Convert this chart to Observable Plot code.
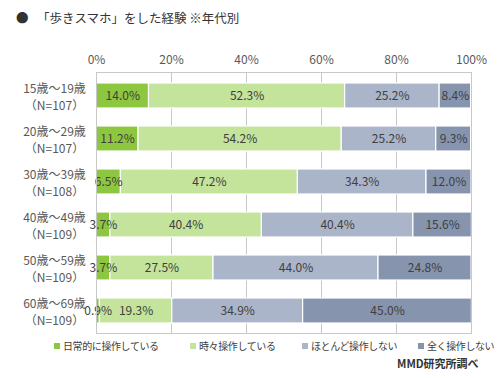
<!DOCTYPE html>
<html><head><meta charset="utf-8">
<script src="https://cdn.jsdelivr.net/npm/d3@7"></script>
<script src="https://cdn.jsdelivr.net/npm/@observablehq/plot@0.6"></script>
<style>
body{margin:0;background:#fff;font-family:"Noto Sans CJK JP","Noto Sans",sans-serif;color:#404040;}
#wrap{position:relative;width:500px;height:378px;overflow:hidden;}
#title{position:absolute;left:16px;top:8px;font-size:12.5px;color:#333;white-space:nowrap;}
#chart{position:absolute;left:0;top:40px;}
.lg{position:absolute;top:338px;font-size:10px;letter-spacing:-0.4px;color:#404040;white-space:nowrap;}
.lg i{display:inline-block;width:6px;height:6px;margin-right:3px;vertical-align:1px;}
#src{position:absolute;left:397px;top:355px;font-size:11px;font-weight:bold;color:#333;}
</style></head>
<body><div id="wrap">
<div id="title">●&nbsp;&nbsp;&nbsp;「歩きスマホ」をした経験 ※年代別</div>
<div id="chart"></div>
<div id="legend"></div>
<div id="src">MMD研究所調べ</div>
</div>
<script>
const ages = ["15歳～19歳","20歳～29歳","30歳～39歳","40歳～49歳","50歳～59歳","60歳～69歳"];
const ns = ["（N=107）","（N=107）","（N=108）","（N=109）","（N=109）","（N=109）"];
const seriesNames = ["日常的に操作している","時々操作している","ほとんど操作しない","全く操作しない"];
const colors = ["#8dc63f","#c4e39b","#aab5ca","#8694ae"];
const daily = [14.0, 11.2, 6.5, 3.7, 3.7, 0.9];
const sometimes = [52.3, 54.2, 47.2, 40.4, 27.5, 19.3];
const rarely = [25.2, 25.2, 34.3, 40.4, 44.0, 34.9];
const never = [8.4, 9.3, 12.0, 15.6, 24.8, 45.0];
const xTicks = [0, 20, 40, 60, 80, 100];
const legendX = [54, 190, 302, 418];

const seriesValues = [daily, sometimes, rarely, never];
const data = [];
ages.forEach((a, i) => seriesValues.forEach((vals, s) => data.push({age: a, series: seriesNames[s], value: vals[i]})));
const labelOf = Object.fromEntries(ages.map((a, i) => [a, a + "\n" + ns[i]]));

const chart = Plot.plot({
  width: 500, height: 300,
  marginLeft: 96, marginRight: 29, marginTop: 32, marginBottom: 7,
  style: {fontFamily: '"Noto Sans CJK JP","Noto Sans",sans-serif', color: "#404040", background: "transparent"},
  x: {domain: [0, 100], ticks: xTicks, tickFormat: d => d + "%"},
  y: {domain: ages, paddingInner: 0.42, paddingOuter: 0.21},
  color: {domain: seriesNames, range: colors},
  marks: [
    Plot.ruleX(xTicks.slice(1, -1), {stroke: "#c8c8c8"}),
    Plot.barX(data, {x: "value", y: "age", fill: "series", order: seriesNames, stroke: "white", strokeWidth: 1.2}),
    Plot.text(data, Plot.stackX({x: "value", y: "age", z: "series", order: seriesNames, text: d => d.value.toFixed(1) + "%", fill: "#404040", fontSize: 12})),
    Plot.frame({stroke: "#c8c8c8"}),
    Plot.axisX({anchor: "top", ticks: xTicks, tickFormat: d => d + "%", tickSize: 0, tickPadding: 9, fontSize: 12, fill: "#595959", label: null}),
    Plot.axisY({tickSize: 0, tickPadding: 42, textAnchor: "middle", tickFormat: d => labelOf[d], lineHeight: 1.45, fontSize: 12, fill: "#595959", label: null})
  ]
});
document.getElementById("chart").appendChild(chart);

const lg = document.getElementById("legend");
seriesNames.forEach((n, i) => {
  const d = document.createElement("div");
  d.className = "lg";
  d.style.left = legendX[i] + "px";
  d.innerHTML = `<i style="background:${colors[i]}"></i>${n}`;
  lg.appendChild(d);
});
</script></body></html>
